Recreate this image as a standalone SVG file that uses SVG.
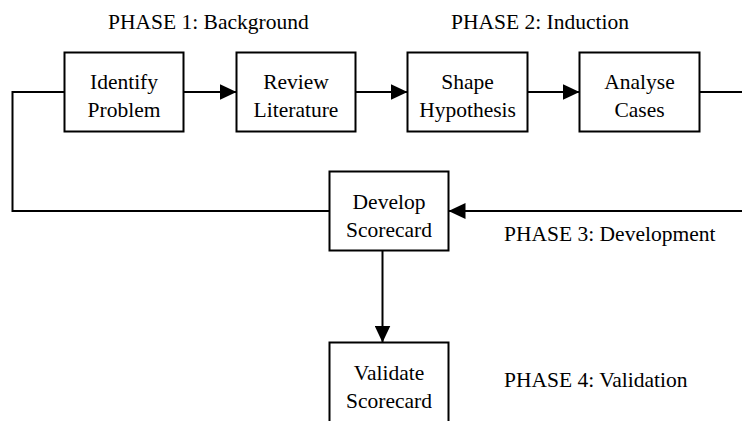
<svg xmlns="http://www.w3.org/2000/svg" width="742" height="421" viewBox="0 0 742 421">
<style>
  .box { fill: #fff; stroke: #000; stroke-width: 2; }
  .conn { fill: none; stroke: #000; stroke-width: 2; }
  text { font-family: "Liberation Serif", "Times New Roman", serif; font-size: 21.5px; fill: #000; }
  .c { text-anchor: middle; }
</style>
<defs>
  <marker id="arr" viewBox="0 0 17 16" refX="17" refY="8" markerWidth="17" markerHeight="16" markerUnits="userSpaceOnUse" orient="auto">
    <path d="M0,0 L17,8 L0,16 Z" fill="#000"/>
  </marker>
</defs>
<rect width="742" height="421" fill="#fff"/>
<g id="connectors">
  <line class="conn" x1="183.5" y1="92" x2="236.5" y2="92" marker-end="url(#arr)"/>
  <line class="conn" x1="355.5" y1="92" x2="407.5" y2="92" marker-end="url(#arr)"/>
  <line class="conn" x1="527.5" y1="92" x2="579.5" y2="92" marker-end="url(#arr)"/>
  <line class="conn" x1="699.5" y1="92" x2="742" y2="92"/>
  <line class="conn" x1="742" y1="211" x2="448.5" y2="211" marker-end="url(#arr)"/>
  <polyline class="conn" points="64.5,92 12.5,92 12.5,211 329.5,211"/>
  <line class="conn" x1="382.5" y1="250.5" x2="382.5" y2="342.5" marker-end="url(#arr)"/>
</g>
<g id="identify">
  <rect class="box" x="64.5" y="52.5" width="119" height="79"/>
  <text class="c" x="124" y="89">Identify</text>
  <text class="c" x="124" y="117">Problem</text>
</g>
<g id="review">
  <rect class="box" x="236.5" y="52.5" width="119" height="79"/>
  <text class="c" x="296" y="89">Review</text>
  <text class="c" x="296" y="117">Literature</text>
</g>
<g id="shape">
  <rect class="box" x="407.5" y="52.5" width="120" height="79"/>
  <text class="c" x="467.5" y="89">Shape</text>
  <text class="c" x="467.5" y="117">Hypothesis</text>
</g>
<g id="analyse">
  <rect class="box" x="579.5" y="52.5" width="120" height="79"/>
  <text class="c" x="639.5" y="89">Analyse</text>
  <text class="c" x="639.5" y="117">Cases</text>
</g>
<g id="develop">
  <rect class="box" x="329.5" y="171.5" width="119" height="79"/>
  <text class="c" x="389" y="209">Develop</text>
  <text class="c" x="389" y="237">Scorecard</text>
</g>
<g id="validate">
  <rect class="box" x="329.5" y="342.5" width="119" height="90"/>
  <text class="c" x="389" y="380">Validate</text>
  <text class="c" x="389" y="408">Scorecard</text>
</g>
<g id="labels">
  <text x="108" y="29">PHASE 1: Background</text>
  <text x="451" y="29">PHASE 2: Induction</text>
  <text x="504" y="241">PHASE 3: Development</text>
  <text x="504" y="387">PHASE 4: Validation</text>
</g>
</svg>
